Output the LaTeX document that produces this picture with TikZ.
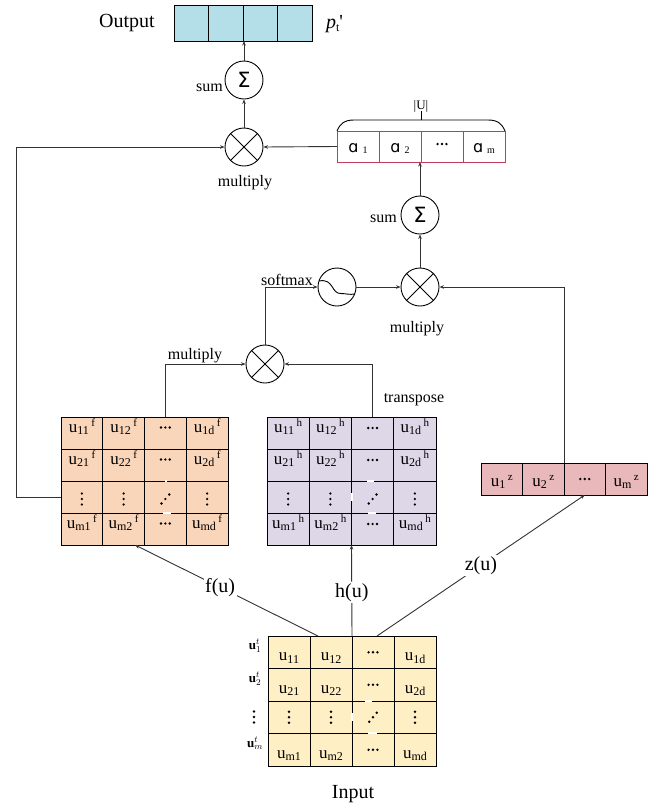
\documentclass[tikz,border=0pt]{standalone}
\usepackage{fontspec}
\setmainfont{Liberation Serif}
\newfontfamily\dejavu{DejaVu Sans}
\usetikzlibrary{arrows.meta,calc}

\definecolor{outblue}{HTML}{B4DEE8}
\definecolor{orangec}{HTML}{F9D5BA}
\definecolor{purplec}{HTML}{DDD7E7}
\definecolor{pinkc}{HTML}{E8B8BA}
\definecolor{yellowc}{HTML}{FEEFC5}
\definecolor{alphared}{HTML}{C23B5E}

\newcommand\cu[2]{u\raisebox{-2.5pt}{\fontsize{12}{12}\selectfont #1}\hspace{2.5pt}\raisebox{5.5pt}{\fontsize{11}{11}\selectfont #2}}
\newcommand\ui[1]{u\raisebox{-2.5pt}{\fontsize{12}{12}\selectfont #1}}
\newcommand\al[1]{{\dejavu\fontsize{16}{16}\selectfont ɑ}\hspace{4pt}\raisebox{-1.5pt}{\fontsize{10}{10}\selectfont #1}}
\newcommand\ulab[1]{\fontsize{13}{13}\selectfont$\mathbf{u}_{#1}^{t}$}

\newcommand\mkcells[6]{%
  \foreach[count=\colidx] \txt in {{#3},{#4},{#5},{#6}} {%
    \node[cell,mcell,minimum width=\MW pt,minimum height=\MH pt] (#1-#2-\colidx) at ({\MX+(\colidx-0.5)*\MW},{\MY+(#2-0.5)*\MH}) {};
    \node[celltext,anchor=base] at ($(#1-#2-\colidx.center)+(0,\TOFF)$) {\txt};
  }}
\newcommand\hdotsat[1]{\foreach \dotd in {-4.4,0,4.4} {\fill ($(#1)+(\dotd,\HOFF)$) circle (1.35pt);}}
\newcommand\vdotsat[1]{\foreach \dotd in {-5.5,0,5.5} {\fill ($(#1)+(0,\VOFF+\dotd)$) circle (1.35pt);}}
\newcommand\ddotsat[1]{\foreach \dotx/\doty in {-3.8/4.5,0/0,3.8/-4.5} {\fill ($(#1)+(\dotx,\VOFF+\doty)$) circle (1.35pt);}}

\begin{document}
\begin{tikzpicture}[x=1pt,y=-1pt,line width=0.9pt,
  cell/.style={draw=black,line width=0.9pt,inner sep=0pt,outer sep=0pt},
  celltext/.style={font=\fontsize{17}{17}\selectfont,inner sep=0pt},
  mcell/.style={},
  circ/.style={circle,draw=black,line width=0.9pt,minimum size=38pt,inner sep=0pt},
  conn/.style={draw=black!80,line width=0.9pt},
  arr/.style={conn,-{Stealth[length=4.5pt,width=3.5pt]}},
  lbl/.style={font=\fontsize{16}{16}\selectfont,inner sep=0pt},
  big/.style={font=\fontsize{20}{20}\selectfont,inner sep=0pt},
  gap/.style={draw=white,line width=1.4pt}]
\fill[white] (0,0) rectangle (657,804);
\useasboundingbox (0,0) rectangle (657,804);

% ---------- orange matrix f
\def\MX{61}\def\MY{417}\def\MW{41.75}\def\MH{32}\def\TOFF{-1}\def\HOFF{-5.5}\def\VOFF{2}
\tikzset{mcell/.style={fill=orangec}}
\mkcells{F}{1}{\cu{11}{f}}{\cu{12}{f}}{}{\cu{1d}{f}}
\mkcells{F}{2}{\cu{21}{f}}{\cu{22}{f}}{}{\cu{2d}{f}}
\mkcells{F}{3}{}{}{}{}
\mkcells{F}{4}{\cu{m1}{f}}{\cu{m2}{f}}{}{\cu{md}{f}}
\hdotsat{F-1-3}\hdotsat{F-2-3}\hdotsat{F-4-3}
\vdotsat{F-3-1}\vdotsat{F-3-2}\vdotsat{F-3-4}\ddotsat{F-3-3}
\draw[gap] (164.5,481) -- (166.5,481);
\draw[gap] (163,513) -- (171,513);

% ---------- purple matrix h
\def\MX{267}\def\MY{417}\def\MW{42.25}\def\MH{32}\def\TOFF{-1}\def\HOFF{-5}\def\VOFF{2}
\tikzset{mcell/.style={fill=purplec}}
\mkcells{P}{1}{\cu{11}{h}}{\cu{12}{h}}{}{\cu{1d}{h}}
\mkcells{P}{2}{\cu{21}{h}}{\cu{22}{h}}{}{\cu{2d}{h}}
\mkcells{P}{3}{}{}{}{}
\mkcells{P}{4}{\cu{m1}{h}}{\cu{m2}{h}}{}{\cu{md}{h}}
\hdotsat{P-1-3}\hdotsat{P-2-3}\hdotsat{P-4-3}
\vdotsat{P-3-1}\vdotsat{P-3-2}\vdotsat{P-3-4}\ddotsat{P-3-3}
\draw[gap] (367,481) -- (374,481);
\draw[gap] (368,513) -- (376,513);
\draw[gap] (352,493) -- (352,501);

% ---------- input matrix
\def\MX{268}\def\MY{636}\def\MW{42}\def\MH{32.5}\def\TOFF{8.5}\def\HOFF{0}\def\VOFF{0}
\tikzset{mcell/.style={fill=yellowc}}
\mkcells{I}{1}{\ui{11}}{\ui{12}}{}{\ui{1d}}
\mkcells{I}{2}{\ui{21}}{\ui{22}}{}{\ui{2d}}
\mkcells{I}{3}{}{}{}{}
\mkcells{I}{4}{\ui{m1}}{\ui{m2}}{}{\ui{md}}
\hdotsat{I-1-3}\hdotsat{I-2-3}\hdotsat{I-4-3}
\vdotsat{I-3-1}\vdotsat{I-3-2}\vdotsat{I-3-4}\ddotsat{I-3-3}
\draw[gap] (365,701) -- (372,701);
\draw[gap] (368,733) -- (377,733);
\draw[gap] (352,713) -- (352,721);
\node[inner sep=0pt,anchor=base] (r1) at (255,649) {\ulab{1}};
\node[inner sep=0pt,anchor=base] (r2) at (255,682) {\ulab{2}};
\coordinate (r3) at (254,717);
\vdotsat{r3}
\node[inner sep=0pt,anchor=base] (r4) at (255,747) {\ulab{m}};

% ---------- pink vector z
\def\MX{481}\def\MY{463}\def\MW{41.5}\def\MH{32}\def\TOFF{7}\def\HOFF{0}
\tikzset{mcell/.style={fill=pinkc}}
\mkcells{Z}{1}{\cu{1}{z}}{\cu{2}{z}}{}{\cu{m}{z}}
\hdotsat{Z-1-3}

% ---------- alpha vector
\def\MX{337}\def\MY{131}\def\MW{42}\def\MH{31}\def\TOFF{5.5}\def\HOFF{-2.5}
\tikzset{mcell/.style={draw=alphared,fill=white}}
\mkcells{A}{1}{\al{1}}{\al{2}}{}{\al{m}}
\hdotsat{A-1-3}
\draw[alphared] (A-1-1.north west) rectangle (A-1-4.south east);
\draw (A-1-1.north west) .. controls ($(A-1-1.north west)+(3,-7)$) and ($(A-1-1.north west)+(7,-11)$) .. ($(A-1-1.north west)+(17,-11)$)
  -- ($(A-1-4.north east)+(-17,-11)$) .. controls ($(A-1-4.north east)+(-7,-11)$) and ($(A-1-4.north east)+(-3,-7)$) .. (A-1-4.north east);
\draw ($(A-1-2.north east)+(0,-11)$) -- ($(A-1-2.north east)+(0,-20)$);
\node[font=\fontsize{13}{13}\selectfont,inner sep=0pt] (U) at ($(A-1-2.north east)+(0,-25)$) {|U|};

% ---------- output vector
\def\MX{174}\def\MY{5}\def\MW{34.5}\def\MH{36}\def\TOFF{0}
\tikzset{mcell/.style={fill=outblue}}
\mkcells{O}{1}{}{}{}{}

% ---------- operators
\node[circ,font=\dejavu\fontsize{21}{21}\selectfont] (sumT) at (244,80) {Σ};
\node[circ] (mulT) at (244,147) {};
\node[circ,font=\dejavu\fontsize{21}{21}\selectfont] (sumM) at (420,215) {Σ};
\node[circ] (mulM) at (420,287) {};
\node[circ] (soft) at (337,287) {};
\node[circ] (mulL) at (265,364) {};
\foreach \n in {mulT,mulM,mulL} {\draw (\n.45) -- (\n.225) (\n.135) -- (\n.315);}
\draw ($(soft)+(-18,-6)$) .. controls ($(soft)+(-3,-9)$) and ($(soft)+(-6,7)$) .. ($(soft)+(4,6.5)$)
  .. controls ($(soft)+(9,6.5)$) and ($(soft)+(13,8)$) .. ($(soft)+(17.5,7)$);

% ---------- connectors
\draw[arr] (sumT.north) -- (sumT.north |- O-1-1.south);
\draw[arr] (mulT.north) -- (sumT.south);
\draw[arr] (A-1-1.west) -- (mulT.east);
\coordinate (leftX) at (16,0);
\draw[arr] (F-3-1.west) -- (F-3-1.west -| leftX) -- (leftX |- mulT.west) -- (mulT.west);
\draw[arr] (sumM.north) -- (sumM.north |- A-1-1.south);
\draw[arr] (mulM.north) -- (sumM.south);
\draw[arr] (soft.east) -- (mulM.west);
\draw[arr] (Z-1-2.north east) -- (Z-1-2.north east |- mulM.east) -- (mulM.east);
\draw[arr] (mulL.north) -- (mulL.north |- soft.west) -- (soft.west);
\draw[arr] (F-1-3.north) -- (F-1-3.north |- mulL.west) -- (mulL.west);
\draw[arr] (P-1-3.north) -- (P-1-3.north |- mulL.east) -- (mulL.east);

\coordinate (fin) at (318,636);
\coordinate (fout) at (135,545);
\coordinate (zin) at (377,636);
\draw[arr] (fin) -- (fout) node[pos=0.535,big,fill=white,inner sep=1.5pt] {f(u)};
\draw[arr] (I-1-2.north east) -- (P-4-2.south east) node[pos=0.48,big,fill=white,inner sep=1.5pt] {h(u)};
\draw[arr] (zin) -- (Z-1-3.south) node[pos=0.5,big,fill=white,inner sep=1.5pt] {z(u)};

% ---------- labels
\node[big,anchor=base] at (127,27) {Output};
\node[big,anchor=base] at (334.5,28) {\textit{p}\raisebox{-3pt}{\fontsize{12}{12}\selectfont t}\textquotesingle};
\node[lbl,anchor=base] at (209.5,91) {sum};
\node[lbl,anchor=base] at (245,186) {multiply};
\node[lbl,anchor=base] at (383.5,222) {sum};
\node[lbl,anchor=base] at (287,285) {softmax};
\node[lbl,anchor=base] at (417,332) {multiply};
\node[lbl,anchor=base] at (195,359) {multiply};
\node[lbl,anchor=base] at (414,402) {transpose};
\node[big,anchor=base] at (353,798) {Input};
\end{tikzpicture}
\end{document}
